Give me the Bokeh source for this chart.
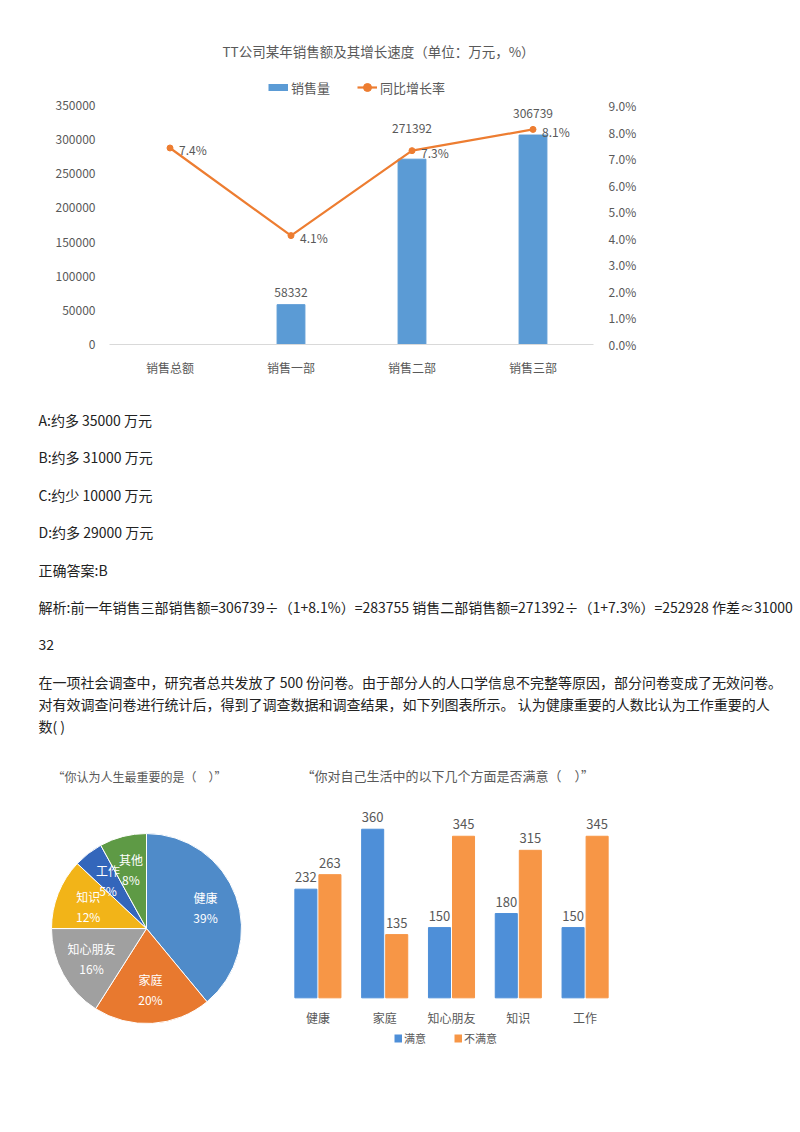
import math
from bokeh.plotting import figure
from bokeh.models import (ColumnDataSource, Range1d, LinearAxis, FactorRange, Legend, LegendItem,
                          NumeralTickFormatter, PrintfTickFormatter, FixedTicker)
from bokeh.layouts import column, row
from bokeh.transform import dodge
from bokeh.core.properties import value
from bokeh.embed import file_html
from bokeh.resources import INLINE

FONT = "Noto Sans CJK SC"
GREY = "#595959"
BLUE = "#5B9BD5"
ORANGE = "#ED7D31"

# --- chart 1 data: TT company sales
depts = ["销售总额", "销售一部", "销售二部", "销售三部"]
sales = [float("nan"), 58332, 271392, 306739]
growth = [7.4, 4.1, 7.3, 8.1]
sales_ticks = [0, 50000, 100000, 150000, 200000, 250000, 300000, 350000]
growth_ticks = [0, 1, 2, 3, 4, 5, 6, 7, 8, 9]
bar_label_lift = [12, 31, 22]   # px above bar top (labels moved off the line)

# --- question text
answer_lines = [
    "A:约多 35000 万元",
    "B:约多 31000 万元",
    "C:约少 10000 万元",
    "D:约多 29000 万元",
    "正确答案:B",
    "解析:前一年销售三部销售额=306739÷（1+8.1%）=283755 销售二部销售额=271392÷（1+7.3%）=252928 作差≈31000",
    "32",
]
question_lines = [
    "在一项社会调查中，研究者总共发放了 500 份问卷。由于部分人的人口学信息不完整等原因，部分问卷变成了无效问卷。",
    "对有效调查问卷进行统计后，得到了调查数据和调查结果，如下列图表所示。 认为健康重要的人数比认为工作重要的人",
    "数( )",
]

# --- chart 2 data: pie
pie_names = ["健康", "家庭", "知心朋友", "知识", "工作", "其他"]
pie_pct = [39, 20, 16, 12, 5, 8]
pie_colors = ["#4F8BC9", "#E8792F", "#A0A0A0", "#F2B418", "#3366BB", "#5E9A45"]

# --- chart 3 data: satisfaction bars
aspects = ["健康", "家庭", "知心朋友", "知识", "工作"]
satisfied = [232, 360, 150, 180, 150]
unsatisfied = [263, 135, 345, 315, 345]


def style_axis(ax, standoff):
    ax.axis_line_color = None
    ax.major_tick_line_color = None
    ax.minor_tick_line_color = None
    ax.major_tick_out = 0
    ax.minor_tick_out = 0
    ax.major_label_standoff = standoff
    ax.major_label_text_font = FONT
    ax.major_label_text_font_size = "12px"
    ax.major_label_text_color = GREY


def style_title(p, text, size, offset, standoff):
    p.title.text = text
    p.title.align = "left"
    p.title.offset = offset
    p.title.standoff = standoff
    p.title.text_font = FONT
    p.title.text_font_size = size
    p.title.text_font_style = "normal"
    p.title.text_color = GREY


def bare(p):
    p.grid.grid_line_color = None
    p.outline_line_color = None


# ================= chart 1 =================
# plot area 239px tall for 0..350000; frame reaches 33px higher to hold the legend
plot_px, frame_px = 239, 272
p1 = figure(x_range=FactorRange(factors=depts),
            y_range=Range1d(0, sales_ticks[-1] * frame_px / plot_px), width=784, height=392,
            output_backend="svg", toolbar_location=None,
            min_border_left=109, min_border_right=191, min_border_top=72, min_border_bottom=48)
p1.extra_y_ranges = {"rate": Range1d(0, growth_ticks[-1] * frame_px / plot_px)}
bare(p1)

p1.yaxis.ticker = FixedTicker(ticks=sales_ticks)
p1.yaxis.formatter = NumeralTickFormatter(format="0")
rax = LinearAxis(y_range_name="rate", ticker=FixedTicker(ticks=growth_ticks),
                 formatter=PrintfTickFormatter(format="%.1f%%"))
p1.add_layout(rax, "right")
style_axis(p1.yaxis[0], 14)
style_axis(rax, 15)
style_axis(p1.xaxis[0], 14)
p1.xaxis.axis_line_color = "#D9D9D9"

src1 = ColumnDataSource(dict(dept=depts, sales=sales, growth=growth,
                             glbl=[f"{g:.1f}%" for g in growth]))
p1.vbar(x="dept", top="sales", width=0.23, color=BLUE, source=src1)

lab_d = [d for d, s in zip(depts, sales) if not math.isnan(s)]
lab_s = [s for s in sales if not math.isnan(s)]
src1b = ColumnDataSource(dict(dept=lab_d, sales=lab_s, txt=[str(int(s)) for s in lab_s],
                              off=[-v for v in bar_label_lift]))
p1.text(x="dept", y="sales", text="txt", y_offset="off", source=src1b, text_align="center",
        text_baseline="middle", text_font=value(FONT), text_font_size="12px", text_color=GREY)

ln = p1.line(x="dept", y="growth", y_range_name="rate", color=ORANGE, line_width=2.2, source=src1)
pts = p1.scatter(x="dept", y="growth", y_range_name="rate", color=ORANGE, size=6, source=src1)
p1.text(x="dept", y="growth", text="glbl", y_range_name="rate", x_offset=9, y_offset=2, source=src1,
        text_align="left", text_baseline="middle", text_font=value(FONT), text_font_size="12px",
        text_color=GREY)

# legend key for the bars: a short thick bar, as in the original (one NaN point, draws nothing)
bar_key = p1.line(x=depts[:1], y=[float("nan")], color=BLUE, line_width=7, line_cap="butt")
leg1 = Legend(items=[LegendItem(label="销售量", renderers=[bar_key]),
                     LegendItem(label="同比增长率", renderers=[ln, pts])],
              orientation="horizontal", location=(159, 247), glyph_width=20, glyph_height=20,
              label_height=20, spacing=27, label_standoff=3, padding=0, margin=0,
              label_text_font=FONT, label_text_font_size="13px", label_text_color=GREY,
              border_line_color=None, background_fill_alpha=0)
p1.add_layout(leg1)
style_title(p1, "TT公司某年销售额及其增长速度（单位：万元，%）", "13.5px", 113, 24)

# ================= text block =================
line_y = []
yy = 27
for _ in answer_lines:
    line_y.append(yy)
    yy += 37.5
for _ in question_lines:
    line_y.append(yy)
    yy += 22
pt = figure(width=800, height=346, x_range=Range1d(0, 800), y_range=Range1d(346, 0),
            output_backend="svg", toolbar_location=None,
            min_border_left=0, min_border_right=0, min_border_top=0, min_border_bottom=0)
pt.axis.visible = False
bare(pt)
srct = ColumnDataSource(dict(x=[38] * len(line_y), y=line_y, t=answer_lines + question_lines))
pt.text(x="x", y="y", text="t", source=srct, text_align="left", text_baseline="middle",
        text_font=value(FONT), text_font_size="14px", text_color="#222222")

# ================= pie =================
R = 95  # pie radius in px
p2 = figure(width=268, height=320, x_range=Range1d(-146 / R, 122 / R), y_range=Range1d(-126 / R, 121 / R),
            output_backend="svg", toolbar_location=None,
            min_border_left=0, min_border_right=0, min_border_top=66, min_border_bottom=7)
p2.axis.visible = False
bare(p2)

total = sum(pie_pct)
starts, ends, lx, ly = [], [], [], []
cum = 0
for v in pie_pct:
    a0 = math.pi / 2 - 2 * math.pi * cum / total
    a1 = math.pi / 2 - 2 * math.pi * (cum + v) / total
    mid = (a0 + a1) / 2
    starts.append(a0)
    ends.append(a1)
    lx.append(0.66 * math.cos(mid))
    ly.append(0.66 * math.sin(mid))
    cum += v
src2 = ColumnDataSource(dict(name=pie_names, pct=[f"{v}%" for v in pie_pct], s=starts, e=ends,
                             color=pie_colors, lx=lx, ly=ly))
p2.wedge(x=0, y=0, radius=1, start_angle="s", end_angle="e", direction="clock", fill_color="color",
         line_color="white", line_width=1, source=src2)
p2.text(x="lx", y="ly", text="name", y_offset=-10, source=src2, text_align="center",
        text_baseline="middle", text_font=value(FONT), text_font_size="12px", text_color="white")
p2.text(x="lx", y="ly", text="pct", y_offset=10, source=src2, text_align="center",
        text_baseline="middle", text_font=value(FONT), text_font_size="12px", text_color="white")
style_title(p2, "“你认为人生最重要的是（\u3000）”", "12px", 52, 51)

# ================= grouped bars =================
# 0.48 px per respondent: 400 at the frame top, frame runs 55px below zero for the labels/legend
p3 = figure(x_range=FactorRange(factors=aspects), y_range=Range1d(-55 / 0.48, 400), width=524, height=320,
            output_backend="svg", toolbar_location=None,
            min_border_left=16, min_border_right=174, min_border_top=66, min_border_bottom=7)
p3.axis.visible = False
bare(p3)

src3 = ColumnDataSource(dict(aspect=aspects, sat=satisfied, unsat=unsatisfied, zero=[0] * len(aspects),
                             sat_t=[str(v) for v in satisfied], unsat_t=[str(v) for v in unsatisfied]))
p3.vbar(x=dodge("aspect", -0.18, range=p3.x_range), top="sat", width=0.33, color="#4E8FD8", source=src3)
p3.vbar(x=dodge("aspect", 0.18, range=p3.x_range), top="unsat", width=0.33, color="#F79646", source=src3)
for xo, col in [(-0.18, "sat"), (0.18, "unsat")]:
    p3.text(x=dodge("aspect", xo, range=p3.x_range), y=col, text=col + "_t", y_offset=-12, source=src3,
            text_align="center", text_baseline="middle", text_font=value(FONT), text_font_size="13px",
            text_color=GREY)
# category names under the bars
p3.text(x="aspect", y="zero", text="aspect", y_offset=20, source=src3, text_align="center",
        text_baseline="middle", text_font=value(FONT), text_font_size="12px", text_color=GREY)

k1 = p3.line(x=aspects[:1], y=[float("nan")], color="#4E8FD8", line_width=8, line_cap="butt")
k2 = p3.line(x=aspects[:1], y=[float("nan")], color="#F79646", line_width=8, line_cap="butt")
leg3 = Legend(items=[LegendItem(label="满意", renderers=[k1]), LegendItem(label="不满意", renderers=[k2])],
              orientation="horizontal", location=(110, 3), glyph_width=8, glyph_height=20,
              label_height=20, spacing=28, label_standoff=2, padding=0, margin=0,
              label_text_font=FONT, label_text_font_size="11px", label_text_color=GREY,
              border_line_color=None, background_fill_alpha=0)
p3.add_layout(leg3)
style_title(p3, "“你对自己生活中的以下几个方面是否满意（\u3000）”", "13px", 17, 51)

layout = column(p1, row(pt), row(p2, p3))
open("out.html", "w").write(file_html(layout, INLINE))
